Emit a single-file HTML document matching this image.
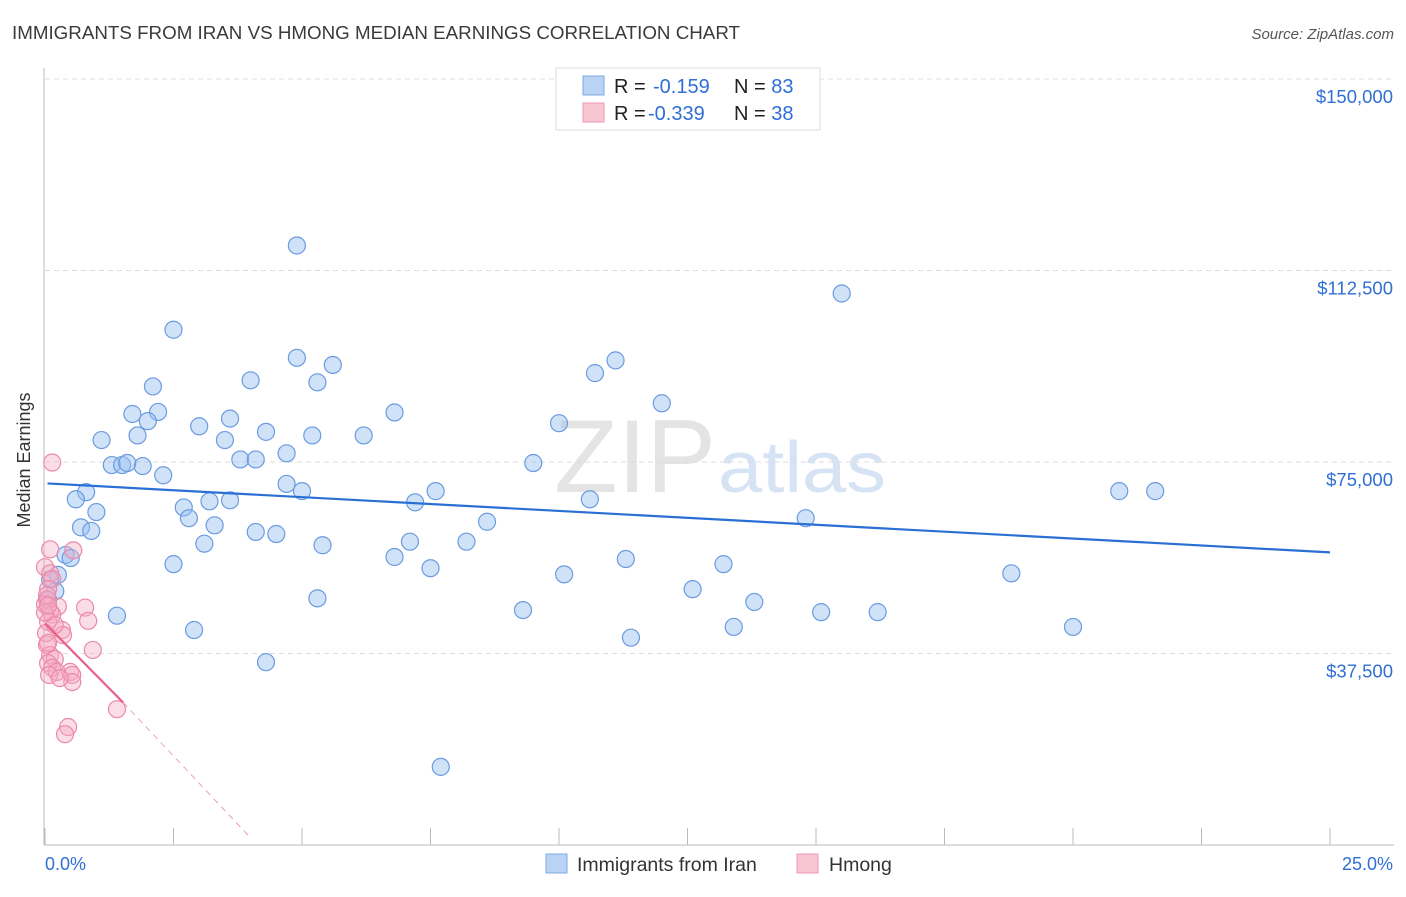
<!DOCTYPE html>
<html><head><meta charset="utf-8"><style>
body{margin:0;background:#fff;font-family:"Liberation Sans",sans-serif;}
svg text{font-family:"Liberation Sans",sans-serif;}
</style></head><body>
<svg id="c" width="1406" height="892">
<text x="12" y="39" font-size="18" fill="#3a3a3a" textLength="728" lengthAdjust="spacingAndGlyphs">IMMIGRANTS FROM IRAN VS HMONG MEDIAN EARNINGS CORRELATION CHART</text>
<text x="1394" y="39" font-size="15" fill="#555" font-style="italic" text-anchor="end">Source: ZipAtlas.com</text>
<text x="30" y="460" font-size="18" fill="#333" text-anchor="middle" transform="rotate(-90 30 460)">Median Earnings</text>
<text x="716" y="492" font-size="104" fill="#e4e4e4" text-anchor="end" font-family="Liberation Serif" textLength="162" lengthAdjust="spacingAndGlyphs">ZIP</text>
<text x="718" y="492" font-size="72" fill="#d6e3f5" textLength="168" lengthAdjust="spacingAndGlyphs">atlas</text>
<g id="grid"></g><g id="pts"></g><g id="trend"></g>
<g>
<rect x="556" y="68" width="264" height="62" fill="#fff" stroke="#ddd"/>
<rect x="583" y="76" width="21" height="19" fill="#b9d3f5" stroke="#7fa9e3"/>
<rect x="583" y="103" width="21" height="19" fill="#f8c6d3" stroke="#ec9ab0"/>
<text x="614" y="93" font-size="20" fill="#222">R = <tspan x="653" fill="#2f6fd6">-0.159</tspan><tspan x="734">N = </tspan><tspan fill="#2f6fd6">83</tspan></text>
<text x="614" y="120" font-size="20" fill="#222">R = <tspan x="648" fill="#2f6fd6">-0.339</tspan><tspan x="734">N = </tspan><tspan fill="#2f6fd6">38</tspan></text>
</g>
<g>
<rect x="546" y="854" width="21" height="19" fill="#b9d3f5" stroke="#7fa9e3"/>
<text x="577" y="871" font-size="19.5" fill="#333">Immigrants from Iran</text>
<rect x="797" y="854" width="21" height="19" fill="#f8c6d3" stroke="#ec9ab0"/>
<text x="829" y="871" font-size="19.5" fill="#333">Hmong</text>
</g>
<text x="45" y="870" font-size="18" fill="#2f6fd6">0.0%</text>
<text x="1393" y="870" font-size="18" fill="#2f6fd6" text-anchor="end">25.0%</text>
</svg>
<script>
const yTicks=[37500,75000,112500,150000];
const yTickLabels=["$37,500","$75,000","$112,500","$150,000"];
const xTicks=[0,2.5,5,7.5,10,12.5,15,17.5,20,22.5,25];
const iranX=[4.9,15.5,2.5,4.9,11.1,10.7,5.6,4.0,5.3,2.1,12.0,1.7,2.2,6.8,3.6,2.0,10.0,3.0,4.3,1.1,1.8,5.2,6.2,3.5,3.8,4.1,4.7,1.3,1.5,1.9,1.6,2.3,9.5,4.7,5.0,20.9,21.6,0.8,0.6,7.6,3.2,3.6,7.2,10.6,2.7,1.0,2.8,8.6,14.8,3.3,0.7,0.9,4.1,4.5,3.1,5.4,7.1,8.2,0.4,0.5,6.8,11.3,2.5,13.2,7.5,10.1,18.8,0.25,12.6,0.2,5.3,13.8,9.3,15.1,16.2,1.4,2.9,13.4,20.0,11.4,4.3,7.7,0.1,0.06];
const iranY=[117400,108000,100900,95400,94900,92400,94000,91000,90600,89800,86500,84400,84800,84700,83500,83000,82600,82000,80900,79300,80200,80200,80200,79300,75500,75500,76700,74400,74400,74200,74800,72400,74800,70700,69300,69300,69300,69100,67700,69300,67300,67500,67100,67700,66100,65200,64000,63300,64000,62600,62200,61500,61300,60900,59000,58700,59400,59400,56800,56200,56400,56000,55000,55000,54200,53000,53200,52900,50100,49700,48300,47600,46000,45600,45600,44900,42100,42700,42700,40600,35800,15300,52000,48000];
const hmongX=[0.14,0.55,0.0,0.1,0.14,0.06,0.04,0.0,0.78,0.25,0.1,0.84,0.14,0.06,0.33,0.35,0.93,0.04,0.1,0.19,0.06,0.14,0.23,0.49,0.53,0.53,1.4,0.45,0.39,0.02,0.06,0.1,0.04,0.19,0.08,0.29,0.0,0.06];
const hmongY=[74900,57700,54400,53200,52100,50100,48100,47100,46500,46700,45700,43900,45100,43700,42100,41100,38200,39200,37200,36400,35600,34700,33900,33900,33300,31900,26600,23100,21700,41500,39600,57900,48900,43100,33300,32700,45500,46900];
const X=v=>45+v/25*1285, Y=v=>845-v/150000*766;
const NS="http://www.w3.org/2000/svg";
function mk(t,a,p){const e=document.createElementNS(NS,t);for(const k in a)e.setAttribute(k,a[k]);p.appendChild(e);return e;}
const grid=document.getElementById('grid');
const yAxis=mk('line',{x1:44,y1:68,x2:44,y2:845,stroke:'#bbb'},grid);


const xAxis=mk('line',{x1:44,y1:845,x2:1394,y2:845,stroke:'#bbb'},grid);


yTicks.forEach((t,i)=>{
 const g=mk('line',{x1:45,x2:1394,y1:Y(t),y2:Y(t),stroke:'#ddd','stroke-dasharray':'5,4'},grid);
 
 
 const l=mk('text',{x:1393,y:Y(t)+24,'font-size':18.5,fill:'#2f6fd6','text-anchor':'end'},grid);
 l.textContent=yTickLabels[i];
 
 
});
xTicks.forEach(t=>{
 const g=mk('line',{x1:X(t),x2:X(t),y1:828,y2:845,stroke:'#bbb'},grid);
 
 
});
const pts=document.getElementById('pts');
iranX.forEach((x,i)=>{
 const c=mk('circle',{cx:X(x),cy:Y(iranY[i]),r:8.5,fill:'rgba(150,190,240,0.45)',stroke:'#6b9be0','stroke-width':1.2},pts);
 
 
});
hmongX.forEach((x,i)=>{
 const c=mk('circle',{cx:X(x),cy:Y(hmongY[i]),r:8.5,fill:'rgba(245,170,195,0.4)',stroke:'#ec8aa8','stroke-width':1.2},pts);
 
 
});
const tr=document.getElementById('trend');
const bt=mk('line',{x1:X(0.05),y1:Y(70800),x2:X(25),y2:Y(57300),stroke:'#2a6fd4','stroke-width':2.2},tr);


const pt=mk('line',{x1:X(0),y1:Y(43400),x2:X(1.52),y2:Y(27900),stroke:'#e8608a','stroke-width':2.2},tr);


const pd=mk('line',{x1:X(1.52),y1:Y(27900),x2:X(4.0),y2:Y(1400),stroke:'#eaa0b8','stroke-width':1,'stroke-dasharray':'6,5'},tr);


</script>
</body></html>
